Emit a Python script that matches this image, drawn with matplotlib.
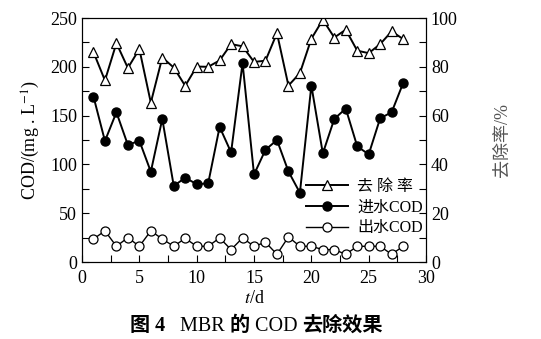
import numpy as np
import matplotlib
matplotlib.use('Agg')
import matplotlib.pyplot as plt
from matplotlib.ticker import MultipleLocator

plt.rcParams['font.family'] = ['Liberation Serif', 'Noto Sans CJK SC']
plt.rcParams['mathtext.fontset'] = 'stix'

days = np.arange(1, 29)
removal = [86, 74.4, 89.7, 79.5, 87.3, 65.3, 83.8, 79.7, 72.2, 80.1,
           80, 82.6, 89.3, 88.4, 82, 82.5, 93.8, 72.3, 77.4, 91.5,
           99.3, 92, 95.2, 86.6, 85.6, 89.3, 94.5, 91.4]
cod_in = [169.5, 124, 153.4, 119.9, 124.3, 92.5, 146.6, 78, 86.3, 79.8,
          80.5, 138.4, 112.3, 203.8, 89.7, 115, 125, 92.8, 70.9, 180.8,
          111.3, 146.6, 157.2, 118.5, 110.3, 147.3, 153.4, 183.2]
cod_out = [23.6, 31.9, 16.1, 25, 16.1, 31.9, 23.6, 16.1, 24.3, 16.1,
           16.1, 24.7, 12.7, 24.7, 16.1, 20.2, 7.9, 25.7, 16.1, 16.1,
           12.7, 12.7, 7.9, 16.1, 16.1, 16.1, 7.9, 16.1]

fig = plt.figure(figsize=(5.41, 3.39), dpi=100)
ax = fig.add_axes([0.1516, 0.2271, 0.6359, 0.7198])
ax2 = ax.twinx()

l2, = ax.plot(days, cod_in, color='black', lw=1.4, marker='o', ms=6.5,
              mfc='black', mec='black', label='进水COD')
l3, = ax.plot(days, cod_out, color='black', lw=1.0, marker='o', ms=6.5,
              mfc='white', mec='black', mew=0.9, label='出水COD')
l1, = ax2.plot(days, removal, color='black', lw=1.4, marker='^', ms=7.5,
               mfc='white', mec='black', mew=0.9, label='去 除 率')

ax.set_xlim(0, 30)
ax.set_ylim(0, 250)
ax2.set_ylim(0, 100)
ax.xaxis.set_major_locator(MultipleLocator(5))
ax.xaxis.set_minor_locator(MultipleLocator(2.5))
ax.yaxis.set_major_locator(MultipleLocator(50))
ax.yaxis.set_minor_locator(MultipleLocator(25))
ax2.yaxis.set_major_locator(MultipleLocator(20))
ax2.yaxis.set_minor_locator(MultipleLocator(10))

for a in (ax, ax2):
    a.tick_params(which='both', direction='in', labelsize=13, width=0.8, length=5)
ax.tick_params(axis='x', pad=6)

ax.set_xlabel('$\\it{t}$/d', fontsize=13, labelpad=2)
ax.set_ylabel('COD/(mg . L$^{-1}$)', fontsize=13, labelpad=6)
ax2.set_ylabel('去除率/%', fontsize=13, color='#555555', labelpad=26)

ax.legend(handles=[l1, l2, l3], loc='upper left', bbox_to_anchor=(0.61, 0.40),
          frameon=False, fontsize=11.5, handlelength=2.6, labelspacing=0.3,
          handletextpad=0.6)

# caption: chinese bold, latin regular, laid out piece by piece
parts = [('图 4   ', 'bold'), ('MBR ', 'normal'), ('的 ', 'bold'),
         ('COD ', 'normal'), ('去除效果', 'bold')]
fig.canvas.draw()
r = fig.canvas.get_renderer()
x = 0.24
for txt, w in parts:
    t = fig.text(x, 0.025, txt, fontsize=14.5, fontweight=w)
    x += t.get_window_extent(renderer=r).width / fig.bbox.width

fig.savefig('out.png', dpi=100)
